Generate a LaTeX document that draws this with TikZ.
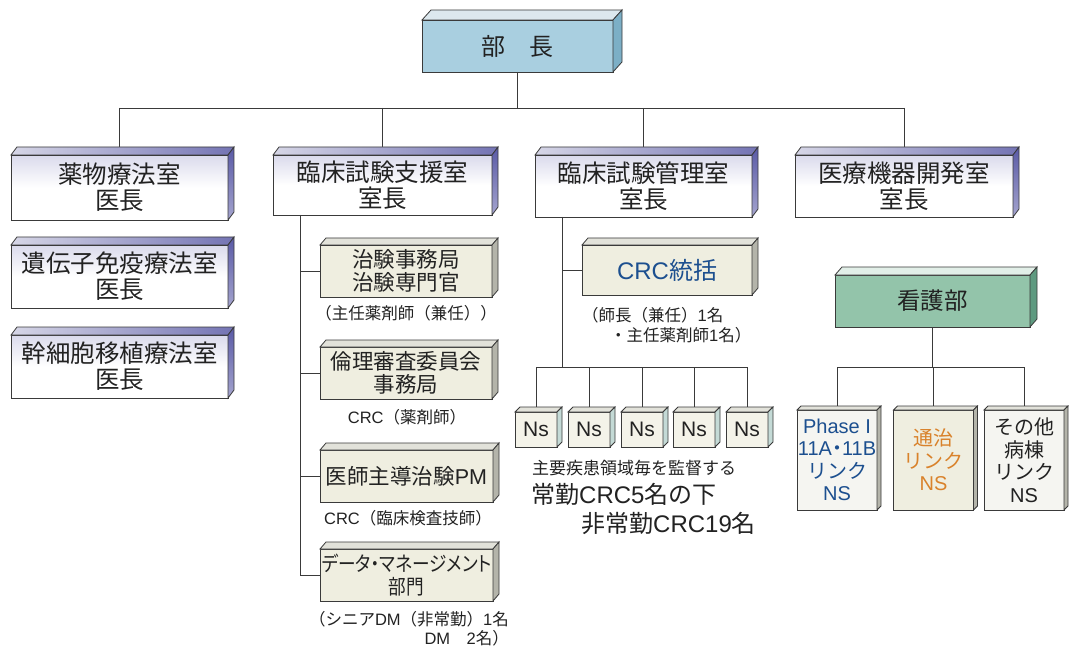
\documentclass[tikz,border=0pt]{standalone}
\usepackage{fontspec}
\setmainfont{Noto Sans CJK JP}
\newfontfamily\pfont[CharacterWidth=AlternateProportional]{Noto Sans CJK JP}
\newfontfamily\cfont[CharacterWidth=AlternateProportional, FakeStretch=0.86]{Noto Sans CJK JP}
\newfontfamily\latf{Liberation Sans}
\newcommand{\lt}[1]{{\latf #1}}
\usetikzlibrary{calc}
\definecolor{edge}{HTML}{3A3A3A}
\definecolor{txt}{HTML}{222222}
\definecolor{buchofill}{HTML}{A9CFE0}
\definecolor{buchotop}{HTML}{DCE8EE}
\definecolor{buchoside}{HTML}{7CAFC6}
\definecolor{mainband}{HTML}{DADAEC}
\definecolor{maintopL}{HTML}{D6D6E6}
\definecolor{maintopR}{HTML}{7474B4}
\definecolor{mainsideT}{HTML}{5A5AA6}
\definecolor{mainsideB}{HTML}{A4A4CE}
\definecolor{subfill}{HTML}{EFEEE0}
\definecolor{subtop}{HTML}{E2E2DA}
\definecolor{subside}{HTML}{B4B4AA}
\definecolor{nsside}{HTML}{C4DAD6}
\definecolor{kangofill}{HTML}{93C4AA}
\definecolor{kangotop}{HTML}{E2EFE8}
\definecolor{kangoside}{HTML}{5E9A80}
\definecolor{linkfill}{HTML}{F5F5F1}
\definecolor{blueTxt}{HTML}{1C4F8F}
\definecolor{orangeTxt}{HTML}{D9822B}
\newcommand{\boxfaces}[5]{%
  \path[draw=edge,line width=0.8pt,#4] (#1.north west) -- ++(#2,#3) -- ($(#1.north east)+(#2,#3)$) -- (#1.north east) -- cycle;
  \path[draw=edge,line width=0.8pt,#5] (#1.north east) -- ++(#2,#3) -- ($(#1.south east)+(#2,#3)$) -- (#1.south east) -- cycle;
}
\tikzset{
  base/.style={draw=edge, line width=0.9pt, inner sep=0pt, outer sep=0pt, align=center, text=txt},
  mainbox/.style={base, minimum width=217pt, top color=mainband, bottom color=white, middle color=white,
      font=\fontsize{24.5}{26}\selectfont},
  subbox/.style={base, fill=subfill, minimum width=172pt, minimum height=52pt, font=\fontsize{21.5}{22.5}\selectfont},
  nsbox/.style={base, fill=subfill!70!white, minimum width=42pt, minimum height=35pt, font=\fontsize{21}{22}\selectfont},
  linkbox/.style={base, fill=linkfill, minimum width=80pt, minimum height=100pt, font=\fontsize{20}{22.5}\selectfont},
  caption/.style={inner sep=0pt, text=txt, font=\fontsize{16.5}{19}\selectfont},
  conn/.style={draw=edge, line width=0.9pt},
  maintop/.style={left color=maintopL, right color=maintopR},
  mainside/.style={top color=mainsideT, bottom color=mainsideB},
  subtopf/.style={fill=subtop},
  subsidef/.style={fill=subside},
}
\begin{document}
\begin{tikzpicture}[x=1pt,y=-1pt]
\useasboundingbox[fill=white] (0,0) rectangle (1070,652);

\coordinate (bus) at (0,108);
\coordinate (sv) at (300,575);
\coordinate (kv) at (562,367);
\coordinate (nsbus) at (0,367);

% nodes
\node[base, fill=buchofill, minimum width=191pt, minimum height=52pt, font=\fontsize{24}{26}\selectfont] (bucho) at (517.5,46) {部\hspace{1em}長};

\node[mainbox, minimum height=65pt] (yakubutsu) at (119.5,187.5) {薬物療法室\\医長};
\node[mainbox, minimum height=63pt] (idenshi) at (119.5,276.5) {遺伝子免疫療法室\\医長};
\node[mainbox, minimum height=63pt] (kansaibo) at (119.5,366.5) {幹細胞移植療法室\\医長};
\node[mainbox, minimum width=219pt, minimum height=60pt] (shien) at (382.5,185) {臨床試験支援室\\室長};
\node[mainbox, minimum height=62pt] (kanri) at (643.5,186) {臨床試験管理室\\室長};
\node[mainbox, minimum width=218pt, minimum height=62pt] (iryo) at (904,186) {医療機器開発室\\室長};

\node[subbox] (chiken) at (406,271) {治験事務局\\治験専門官};
\node[subbox] (rinri) at (406,373) {倫理審査委員会\\事務局};
\node[subbox, minimum width=173pt] (ishi) at (406.5,476) {医師主導治験\lt{PM}};
\node[subbox, minimum width=173pt, font=\cfont\fontsize{20.5}{23}\selectfont] (data) at (406.5,575) {データ・マネージメント\\部門};

\node[subbox, minimum width=170pt, minimum height=50pt, text=blueTxt, font=\fontsize{24}{26}\selectfont] (crc) at (667,270) {\lt{CRC}統括};

\node[nsbox] (ns1) at (536,429.5) {\lt{Ns}};
\node[nsbox] (ns2) at (589,429.5) {\lt{Ns}};
\node[nsbox] (ns3) at (642,429.5) {\lt{Ns}};
\node[nsbox] (ns4) at (694,429.5) {\lt{Ns}};
\node[nsbox] (ns5) at (747,429.5) {\lt{Ns}};

\node[base, fill=kangofill, minimum width=195pt, minimum height=52pt, font=\fontsize{23.5}{25}\selectfont] (kango) at (932.5,301) {看護部};

\node[linkbox, text=blueTxt] (link1) at (837,460) {\lt{Phase I}\\\lt{11A}{\pfont ・}\lt{11B}\\リンク\\\lt{NS}};
\node[linkbox, fill=subfill, text=orangeTxt] (link2) at (933.5,460) {通治\\リンク\\\lt{NS}};
\node[linkbox] (link3) at (1024,460) {その他\\病棟\\リンク\\\lt{NS}};

% captions
\node[caption] (cap1) at (406,313) {（主任薬剤師（兼任））};
\node[caption] (cap2) at (407,417) {\lt{CRC}（薬剤師）};
\node[caption] (cap3) at (408,518) {\lt{CRC}（臨床検査技師）};
\node[caption, align=right] (cap4) at (409,629) {（シニア\lt{DM}（非常勤）\lt{1}名\\\lt{DM}\hspace{1em}\lt{2}名）};
\node[caption, anchor=west] (cap5) at (582,315) {（師長（兼任）\lt{1}名};
\node[caption, anchor=west] (cap6) at (610,335) {・主任薬剤師\lt{1}名）};
\node[inner sep=0pt, text=txt, anchor=west, font=\fontsize{17}{19}\selectfont] (nscap1) at (532,468) {主要疾患領域毎を監督する};
\node[inner sep=0pt, text=txt, anchor=west, font=\fontsize{24}{26}\selectfont] (nscap2) at (531,494) {常勤\lt{CRC5}名の下};
\node[inner sep=0pt, text=txt, anchor=west, font=\fontsize{24}{26}\selectfont] (nscap3) at (581,523) {非常勤\lt{CRC19}名};

% connector lines (drawn before the 3D faces)
\draw[conn] (bucho.south) -- (bucho.south |- bus);
\draw[conn] (yakubutsu.north |- bus) -- (iryo.north |- bus);
\draw[conn] (yakubutsu.north |- bus) -- ($(yakubutsu.north)+(0,-8)$);
\draw[conn] (shien.north |- bus) -- ($(shien.north)+(0,-8)$);
\draw[conn] (kanri.north |- bus) -- ($(kanri.north)+(0,-8)$);
\draw[conn] (iryo.north |- bus) -- ($(iryo.north)+(0,-8)$);

\draw[conn] (sv |- shien.south) -- (sv);
\draw[conn] (sv |- chiken.west) -- (chiken.west);
\draw[conn] (sv |- rinri.west) -- (rinri.west);
\draw[conn] (sv |- ishi.west) -- (ishi.west);
\draw[conn] (sv |- data.west) -- (data.west);

\draw[conn] (kv |- kanri.south) -- (kv);
\draw[conn] (kv |- crc.west) -- (crc.west);
\draw[conn] (ns1.north |- nsbus) -- (ns5.north |- nsbus);
\foreach \n in {ns1,ns2,ns3,ns4,ns5} {\draw[conn] (\n.north |- nsbus) -- ($(\n.north)+(0,-5)$);}

\draw[conn] (kango.south) -- (kango.south |- nsbus);
\draw[conn] (link1.north |- nsbus) -- (link3.north |- nsbus);
\foreach \n in {link1,link2,link3} {\draw[conn] (\n.north |- nsbus) -- ($(\n.north)+(0,-4)$);}

% 3D faces
\boxfaces{bucho}{9}{-10}{fill=buchotop}{fill=buchoside}
\foreach \n in {yakubutsu,idenshi,kansaibo,shien,kanri,iryo} {\boxfaces{\n}{6}{-8}{maintop}{mainside}}
\foreach \n in {chiken,rinri,ishi,data,crc} {\boxfaces{\n}{6}{-7}{subtopf}{subsidef}}
\foreach \n in {ns1,ns2,ns3,ns4,ns5} {\boxfaces{\n}{5}{-5}{fill=subtop}{fill=nsside}}
\boxfaces{kango}{7}{-8}{fill=kangotop}{fill=kangoside}
\foreach \n in {link1,link2,link3} {\boxfaces{\n}{4}{-4}{fill=subtop}{fill=subside}}
\end{tikzpicture}
\end{document}
